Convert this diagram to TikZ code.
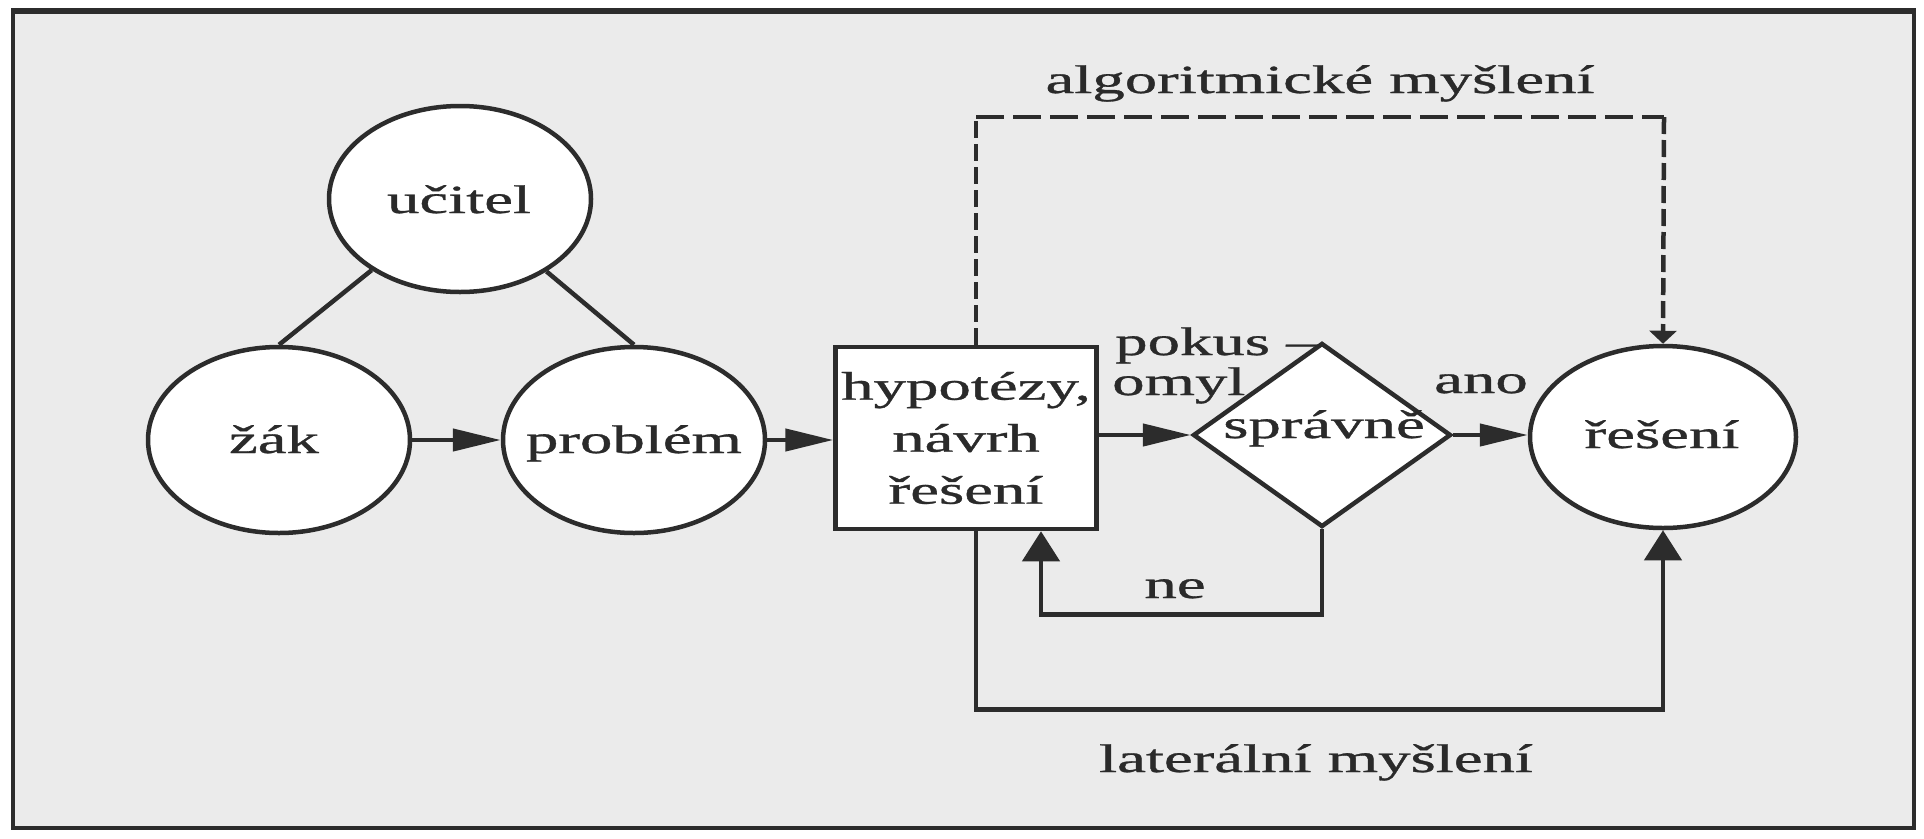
\documentclass[tikz,border=0pt]{standalone}
\usepackage{fontspec}
\setmainfont{Liberation Serif}[FakeBold=0.7]
\usepackage{graphicx}
\usetikzlibrary{shapes.geometric,arrows.meta}
\definecolor{linec}{HTML}{2C2C2C}
\definecolor{textc}{HTML}{2A2A2A}
\definecolor{paper}{HTML}{EBEBEB}
\newcommand{\sx}[1]{\scalebox{1.62}[1]{#1}}
\begin{document}
\begin{tikzpicture}[x=1pt,y=-1pt,
  outline/.style={draw=linec, line width=4.5pt, fill=white, inner sep=0pt},
  ellbox/.style={outline, ellipse, minimum width=262pt, minimum height=186pt},
  rectbox/.style={outline, rectangle, minimum width=261pt, minimum height=182pt, align=center, text=textc, font=\fontsize{40}{52}\selectfont},
  diabox/.style={outline, diamond, minimum width=258pt, minimum height=184pt},
  lbl/.style={inner sep=0pt, anchor=base, text=textc, font=\fontsize{40}{52}\selectfont},
  conn/.style={draw=linec, line width=4.5pt},
  harr/.style={conn, -{Triangle[length=48pt,width=22pt]}},
  varr/.style={conn, -{Triangle[length=30pt,width=37pt]}},
  dvert/.style={conn, dash pattern=on 17pt off 6pt},
  dhorz/.style={conn, dash pattern=on 28pt off 9pt}
]
\useasboundingbox (0,0) rectangle (1924,838);
\fill[white] (0,0) rectangle (1924,838);
\draw[line width=3.5pt, draw=linec, fill=paper] (13,10) rectangle (1914,828);
\draw[line width=2pt, draw=linec] (13,13) -- (1914,13);

% shapes
\node[ellbox] (ucitel) at (460,199) {};
\node[ellbox] (zak) at (279,440) {};
\node[ellbox] (problem) at (634,440) {};
\node[ellbox, minimum width=266pt, minimum height=182pt] (reseni) at (1663,437) {};
\node[rectbox] (box) at (966,438) {\sx{hypotézy,}\\\sx{návrh}\\\sx{řešení}};
\node[diabox] (check) at (1322,435) {};

% labels inside shapes
\node[lbl] (tucitel) at (459,213) {\sx{učitel}};
\node[lbl] (tzak) at (274,453) {\sx{žák}};
\node[lbl] (tproblem) at (634,453) {\sx{problém}};
\node[lbl] (treseni) at (1662,448) {\sx{řešení}};
\node[lbl] (tcheck) at (1324,438) {\sx{správně}};

% free labels
\node[lbl] (talg) at (1320,93) {\sx{algoritmické myšlení}};
\node[lbl] (tlat) at (1316,772) {\sx{laterální myšlení}};
\node[lbl, anchor=base west] (tpokus) at (1115,355) {\sx{pokus –}};
\node[lbl, anchor=base west] (tomyl) at (1112,395) {\sx{omyl}};
\node[lbl] (tano) at (1481,393) {\sx{ano}};
\node[lbl] (tne) at (1175,598) {\sx{ne}};

% connectors
\draw[conn] (ucitel) -- (zak.north);
\draw[conn] (ucitel) -- (problem.north);
\draw[harr] (zak) -- (problem);
\draw[harr] (problem.east) -- (problem.east -| box.west);
\draw[harr] (box.east |- check.west) -- (check.west);
\draw[harr] (check.east) -- (check.east -| reseni.west);
\draw[varr] (check.south) -- ++(0,85) -| ([xshift=75pt]box.south);
\draw[varr] ([xshift=10pt]box.south) -- ++(0,178) -| (reseni.south);

\coordinate (a1) at (976,117);
\coordinate (a2) at (1664,117);
\draw[dvert] ([xshift=10pt]box.north) -- (a1);
\draw[dhorz] (a1) -- (a2);
\draw[dvert, -{Triangle[length=13pt,width=27pt]}] (a2) -- (reseni.north);
\end{tikzpicture}
\end{document}
